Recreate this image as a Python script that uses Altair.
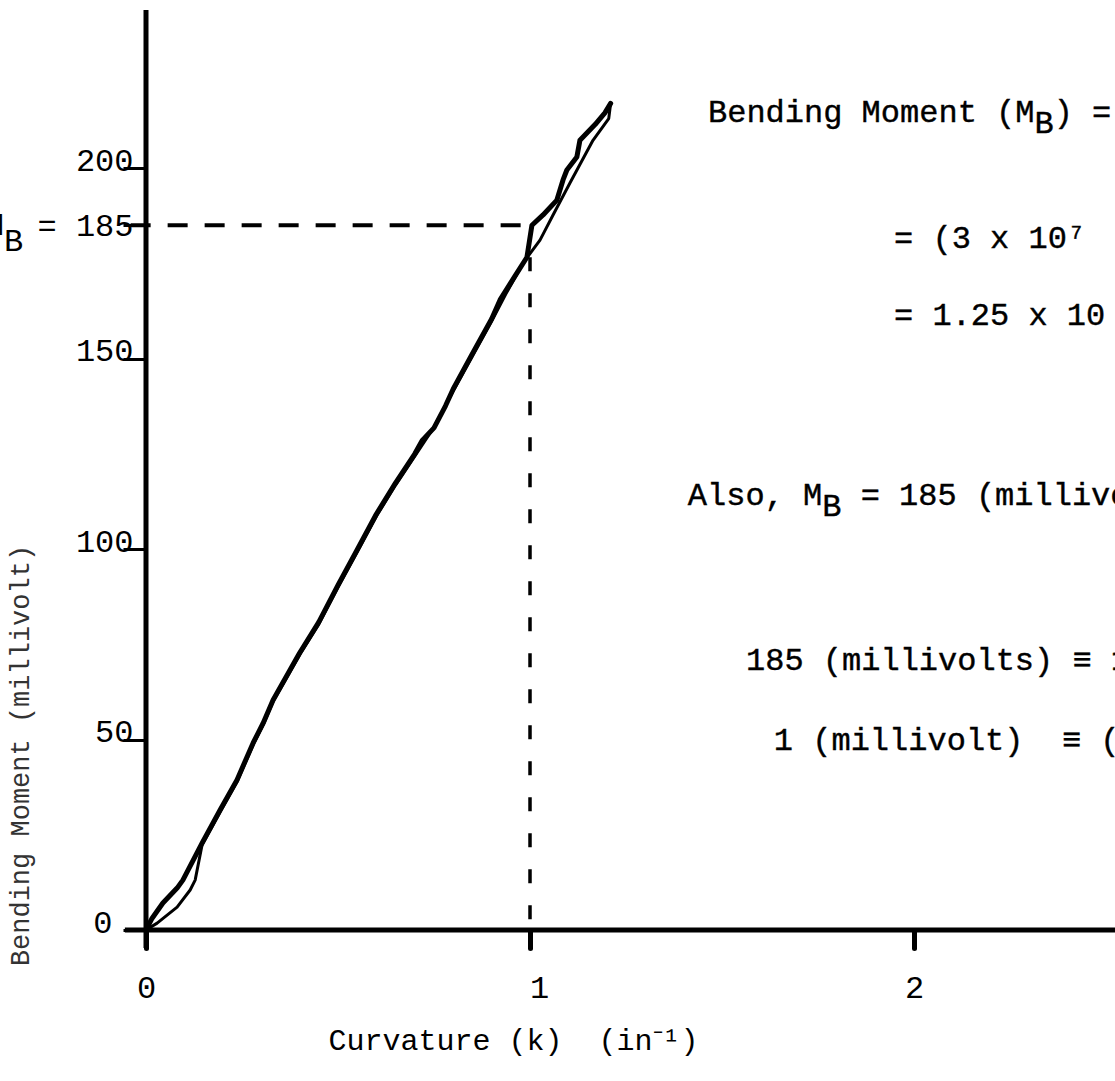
import altair as alt
import pandas as pd

# ---- data -------------------------------------------------------------
# loading branch, origin -> tip  (curvature k in 1/in, bending moment in mV)
load_k = [0, 0.016, 0.044, 0.081, 0.096, 0.146, 0.193, 0.237, 0.279, 0.305,
          0.331, 0.40, 0.45, 0.50, 0.55, 0.60, 0.65, 0.70, 0.72, 0.75, 0.78,
          0.80, 0.85, 0.90, 0.922, 0.96, 0.992, 1.005, 1.034, 1.07, 1.086,
          1.096, 1.122, 1.13, 1.17, 1.195, 1.21]
load_mb = [0, 3.1, 7.1, 11.0, 13.1, 22.8, 31.5, 39.4, 49.1, 54.3,
           60.4, 72.7, 80.8, 90.5, 99.8, 109.2, 117.4, 125.0, 128.6, 131.8, 137.6,
           142.0, 151.3, 160.4, 165.4, 171.5, 176.6, 185.0, 187.7, 191.6, 196.9,
           199.5, 202.9, 207.3, 211.5, 214.5, 217.0]

# unloading branch, tip -> origin
unload_k = [1.21, 1.205, 1.164, 1.104, 1.06, 1.026, 0.982, 0.94, 0.90, 0.85,
            0.80, 0.75, 0.70, 0.65, 0.60, 0.55, 0.50, 0.45, 0.40, 0.331,
            0.305, 0.279, 0.237, 0.193, 0.146, 0.128, 0.115, 0.081, 0.029, 0]
unload_mb = [217.0, 213.0, 207.3, 196.1, 187.7, 181.1, 175.1, 167.5, 159.8, 150.6,
             141.5, 132.0, 124.4, 116.8, 108.6, 99.2, 90.0, 80.3, 72.2, 60.0,
             53.8, 48.6, 38.9, 31.0, 22.3, 13.1, 10.5, 6.0, 1.8, 0]

y_ticks = [0, 50, 100, 150, 185, 200]
x_ticks = [0, 1, 2]

# reference reading: M_B = 185 mV at k = 1 /in
ref_k = 1.0
ref_mb = 185
ref_curve_mb = 176.6

NB = "\u00a0"  # non-collapsing space for the typewriter layout
# annotation lines (text, k, M_B of the left baseline)
note_text = ["Bending Moment (M" + NB + ") =",
             "= (3 x 10\u2077",
             "= 1.25 x 10",
             "Also, M" + NB + " = 185 (millivolts)",
             "185 (millivolts) \u2261 1",
             "1 (millivolt)" + NB + " \u2261 ("]
note_k = [1.4635, 1.948, 1.948, 1.411, 1.5625, 1.635]
note_mb = [212.1, 179.0, 158.8, 111.5, 68.2, 47.2]

# ---- layout -----------------------------------------------------------
K_MIN, K_MAX = 0.0, 2.5234
MB_MIN, MB_MAX = 0.0, 241.5
W, H = 969, 920
FONT = "Liberation Mono"
FS = 32
CHAR_W = 0.6 * FS

curve = pd.concat([
    pd.DataFrame({"k": load_k, "mb": load_mb, "branch": "load",
                  "i": range(len(load_k))}),
    pd.DataFrame({"k": unload_k, "mb": unload_mb, "branch": "unload",
                  "i": range(len(unload_k))}),
])

xscale = alt.Scale(domain=[K_MIN, K_MAX], nice=False, zero=False)
yscale = alt.Scale(domain=[MB_MIN, MB_MAX], nice=False, zero=False)

xaxis = alt.Axis(
    values=x_ticks, domain=False, grid=False,
    tickSize=18, tickWidth=5, tickColor="black", tickCap="round",
    labelFont=FONT, labelFontSize=FS, labelColor="black",
    labelPadding=24, labelFlush=False,
    labelOffset={"condition": {"test": "datum.value == 1", "value": 9},
                 "value": 0},
    title="Curvature (k)" + NB + " (in\u207b\u00b9)", titleFont=FONT, titleFontSize=30,
    titleFontWeight="normal", titleColor="black",
    titleX=367, titleY=110, titleAlign="center", titleBaseline="middle",
)
yaxis = alt.Axis(
    values=y_ticks, domain=False, grid=False,
    tickSize=23, tickWidth=3, tickColor="black",
    labelFont=FONT, labelFontSize=FS, labelColor="black",
    labelExpr="datum.value == 185 ? '= 185' : datum.label",
    labelPadding={"condition": {"test": "datum.value == 0", "value": 11},
                  "value": -10},
    labelBaseline={"condition": {"test": "datum.value == 185", "value": "middle"},
                   "value": "alphabetic"},
    labelOffset={"condition": {"test": "datum.value == 185", "value": 0},
                 "value": 2},
    labelOverlap=False,
    title="Bending Moment (millivolt)", titleFont=FONT, titleFontSize=27,
    titleFontWeight="normal", titleColor="#333",
    titleX=-126, titleY=745, titleAlign="center", titleBaseline="middle",
    titleAngle=270,
)

X = alt.X("k:Q", scale=xscale, axis=xaxis)
Y = alt.Y("mb:Q", scale=yscale, axis=yaxis)

base = alt.Chart(curve).encode(x=X, y=Y, order="i:Q")
load_line = base.transform_filter(alt.datum.branch == "load").mark_line(
    color="black", strokeWidth=5, strokeCap="round", strokeJoin="round")
unload_line = base.transform_filter(alt.datum.branch == "unload").mark_line(
    color="black", strokeWidth=3, strokeCap="round", strokeJoin="round")

# axis lines, running a little past the origin
frame_v = pd.DataFrame({"k": [0.0], "mb": [-4.7], "mb2": [MB_MAX]})
frame_h = pd.DataFrame({"k": [-0.055], "k2": [K_MAX], "mb": [0.0]})
v_axis = alt.Chart(frame_v).mark_rule(color="black", strokeWidth=5).encode(
    x=X, y=Y, y2="mb2:Q")
h_axis = alt.Chart(frame_h).mark_rule(color="black", strokeWidth=5).encode(
    x=X, x2="k2:Q", y=Y)

# dashed read-off lines
dash_h = alt.Chart(pd.DataFrame({"k": [-0.04], "k2": [ref_k], "mb": [ref_mb]})) \
    .mark_rule(color="black", strokeWidth=4, strokeDash=[20, 17]) \
    .encode(x=X, x2="k2:Q", y=Y)
dash_v = alt.Chart(pd.DataFrame({"k": [ref_k], "mb": [ref_curve_mb], "mb2": [0.0]})) \
    .mark_rule(color="black", strokeWidth=3.5, strokeDash=[14, 22]) \
    .encode(x=X, y=Y, y2="mb2:Q")

notes_df = pd.DataFrame({"label": note_text, "k": note_k, "mb": note_mb})
text_style = dict(font=FONT, fontSize=FS, color="black", stroke="black",
                  strokeWidth=0.4, align="left", baseline="alphabetic")
notes = alt.Chart(notes_df).mark_text(clip=True, **text_style).encode(
    x=X, y=Y, text="label:N")

# subscript B's set into the gaps of the first and fourth lines
sub1 = alt.Chart(notes_df.iloc[[0]]).mark_text(
    clip=True, dx=17 * CHAR_W, dy=11, **text_style).encode(
    x=X, y=Y, text=alt.value("B"))
sub4 = alt.Chart(notes_df.iloc[[3]]).mark_text(
    clip=True, dx=7 * CHAR_W, dy=11, **text_style).encode(
    x=X, y=Y, text=alt.value("B"))

# "M_B" in front of the 185 tick label
mb_df = pd.DataFrame({"k": [-0.37], "mb": [ref_mb]})
mb_m = alt.Chart(mb_df).mark_text(
    font=FONT, fontSize=FS, color="black", align="right", baseline="middle"
).encode(x=X, y=Y, text=alt.value("M"))
mb_b = alt.Chart(mb_df).mark_text(
    font=FONT, fontSize=FS, color="black", align="left", baseline="middle", dy=16
).encode(x=X, y=Y, text=alt.value("B"))

chart = alt.layer(
    dash_h, dash_v, v_axis, h_axis, unload_line, load_line,
    notes, sub1, sub4, mb_m, mb_b,
).properties(
    width=W, height=H,
    autosize=alt.AutoSizeParams(type="none"),
    padding={"left": 146, "top": 10, "right": 0, "bottom": 151},
    background="white",
).configure_view(stroke=None)

chart.save("out.html", embed_options={"renderer": "svg", "actions": False})
